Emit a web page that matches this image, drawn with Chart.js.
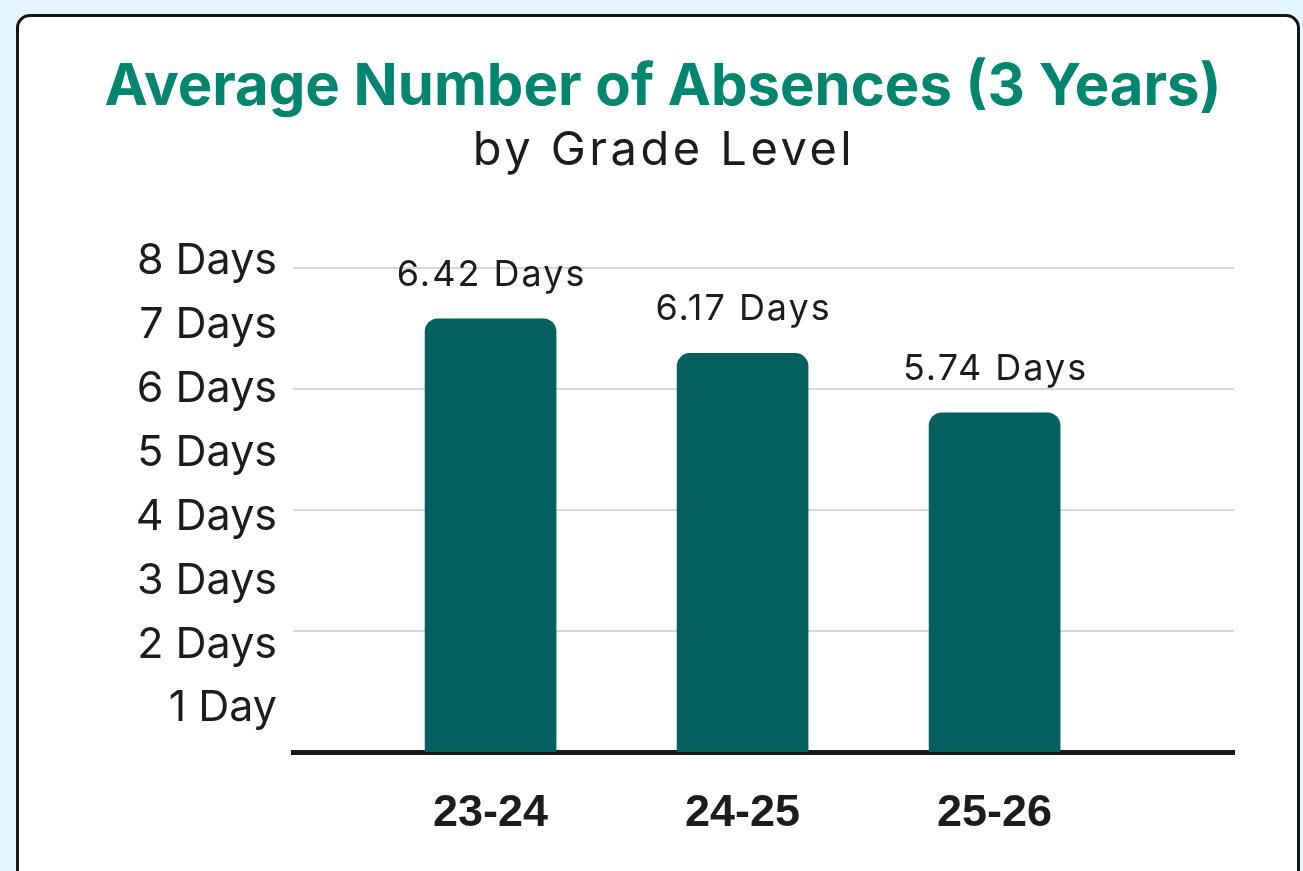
<!DOCTYPE html>
<html>
<head>
<meta charset="utf-8">
<script src="https://cdn.jsdelivr.net/npm/chart.js@4.4.1/dist/chart.umd.min.js"></script>
<style>
  html, body { margin: 0; padding: 0; background: #e4f6fd; width: 1303px; height: 871px; overflow: hidden; }
  .card { position: absolute; left: 16px; top: 14px; width: 1278px; height: 900px; background: #fff; border: 3px solid #161616; border-radius: 14px; }
  #chart { position: absolute; left: 0; top: 0; }
</style>
</head>
<body>
<div class="card"></div>
<canvas id="chart" width="1303" height="871"></canvas>
<script>
const titleText = 'Average Number of Absences (3 Years)';
const subtitleText = 'by Grade Level';
const years = ['23-24', '24-25', '25-26'];
const avgAbsences = [6.42, 6.17, 5.74];
const dayTickValues = [1, 2, 3, 4, 5, 6, 7, 8];
const dayTickLabels = ['1 Day', '2 Days', '3 Days', '4 Days', '5 Days', '6 Days', '7 Days', '8 Days'];
const gridValues = [2, 4, 6, 8];

const textColor = '#1c1c1c';

// title + subtitle, drawn with a bit of letter spacing
const headings = {
  id: 'headings',
  beforeDraw(chart) {
    const ctx = chart.ctx;
    ctx.save();
    ctx.textAlign = 'center';
    ctx.textBaseline = 'alphabetic';
    ctx.fillStyle = '#00856f';
    ctx.font = '700 58px Inter';
    ctx.letterSpacing = '0px';
    ctx.fillText(titleText, 663, 105);
    ctx.fillStyle = textColor;
    ctx.font = '400 47px Inter';
    ctx.letterSpacing = '3.5px';
    ctx.fillText(subtitleText, 664, 165);
    ctx.restore();
  }
};

// draws "6.42 Days" above each bar
const valueLabels = {
  id: 'valueLabels',
  afterDatasetsDraw(chart) {
    const ctx = chart.ctx;
    const meta = chart.getDatasetMeta(0);
    ctx.save();
    ctx.font = '400 36px Inter';
    ctx.letterSpacing = '2px';
    ctx.fillStyle = textColor;
    ctx.textAlign = 'center';
    ctx.textBaseline = 'alphabetic';
    meta.data.forEach((bar, i) => {
      ctx.fillText(avgAbsences[i].toFixed(2) + ' Days', bar.x + 1, bar.y - 33);
    });
    ctx.restore();
  }
};

new Chart(document.getElementById('chart'), {
  type: 'bar',
  data: {
    datasets: [{
      data: avgAbsences.map((v, i) => ({ x: i, y: v })),
      yAxisID: 'yBar',
      backgroundColor: '#03605f',
      borderRadius: 13,
      borderSkipped: 'start',
      barThickness: 131
    }]
  },
  options: {
    responsive: false,
    animation: false,
    layout: { padding: { left: 0, right: 69, top: 261, bottom: 0 } },
    plugins: {
      legend: { display: false },
      tooltip: { enabled: false }
    },
    scales: {
      x: {
        type: 'linear',
        offset: false,
        min: -0.784,
        max: 2.95,
        afterBuildTicks: s => { s.ticks = years.map((y, i) => ({ value: i })); },
        afterFit: s => { s.height = 119; },
        ticks: {
          callback: (v) => years[v],
          color: textColor,
          font: { family: 'Liberation Sans', size: 45, weight: 'bold' },
          padding: 27,
          maxRotation: 0
        },
        grid: { display: false },
        border: { color: '#1a1a1a', width: 5 }
      },
      y: {
        position: 'left',
        min: 0,
        max: 8.116,
        afterBuildTicks: s => { s.ticks = gridValues.map(v => ({ value: v })); },
        afterFit: s => { s.width = 0; },
        ticks: { display: false },
        grid: { color: '#d8d8d8', lineWidth: 2, drawTicks: false },
        border: { display: false }
      },
      yLabels: {
        position: 'left',
        min: 0.32,
        max: 8,
        afterBuildTicks: s => { s.ticks = dayTickValues.map(v => ({ value: v })); },
        afterFit: s => { s.width = 293; },
        ticks: {
          callback: (v, i) => dayTickLabels[i],
          color: textColor,
          font: { family: 'Inter', size: 43 },
          padding: 8
        },
        grid: { display: false },
        border: { display: false }
      },
      yBar: {
        display: false,
        min: 3.284,
        max: 6.839
      }
    }
  },
  plugins: [headings, valueLabels]
});
</script>
</body>
</html>
